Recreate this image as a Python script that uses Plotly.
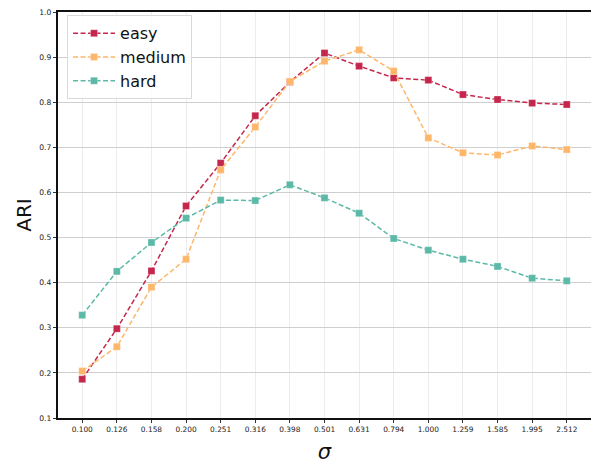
import plotly.graph_objects as go

sigma_labels = ["0.100", "0.126", "0.158", "0.200", "0.251", "0.316", "0.398", "0.501",
                "0.631", "0.794", "1.000", "1.259", "1.585", "1.995", "2.512"]
easy = [0.186, 0.298, 0.426, 0.570, 0.665, 0.770, 0.845, 0.909, 0.880, 0.854, 0.849, 0.817, 0.806, 0.798, 0.795]
medium = [0.204, 0.258, 0.390, 0.452, 0.650, 0.745, 0.846, 0.891, 0.916, 0.869, 0.721, 0.688, 0.683, 0.703, 0.695]
hard = [0.328, 0.425, 0.489, 0.543, 0.583, 0.582, 0.617, 0.588, 0.554, 0.498, 0.472, 0.452, 0.436, 0.410, 0.404]
y_ticks = [0.1, 0.2, 0.3, 0.4, 0.5, 0.6, 0.7, 0.8, 0.9, 1.0]

series = [("easy", easy, "#C4264C"), ("medium", medium, "#FDB76A"), ("hard", hard, "#5CB9A7")]
xpos = list(range(len(sigma_labels)))

fig = go.Figure()
for name, vals, col in series:
    fig.add_trace(go.Scatter(
        x=xpos, y=vals, name=name, mode="lines+markers",
        line=dict(color=col, width=1.5, dash="5px,2.5px"),
        marker=dict(symbol="square", size=7, color=col, line=dict(width=0.8, color="rgba(255,255,255,0.35)")),
    ))

fig.update_layout(
    width=591, height=464,
    margin=dict(l=58, r=0, t=12, b=46),
    paper_bgcolor="white", plot_bgcolor="white",
    font=dict(family="DejaVu Sans", color="#222"),
    showlegend=True,
    legend=dict(x=0.017, y=0.992, xanchor="left", yanchor="top",
                bgcolor="rgba(255,255,255,0.85)", bordercolor="#d9d9d9", borderwidth=1,
                font=dict(size=16, family="DejaVu Sans", color="#111"),
                itemwidth=42, tracegroupgap=0),
)
fig.update_xaxes(
    range=[-0.7, 14.7], tickmode="array", tickvals=xpos, ticktext=sigma_labels,
    tickfont=dict(size=7.4, family="DejaVu Sans", color="#222"),
    ticks="outside", ticklen=3.5, tickcolor="#333", tickwidth=1,
    showline=True, linecolor="#111", linewidth=1.5, mirror=True,
    showgrid=True, gridcolor="#ececec", gridwidth=1, zeroline=False,
    title=dict(text="<i>σ</i>", font=dict(size=21, family="DejaVu Sans", color="#111"), standoff=15),
)
fig.update_yaxes(
    range=[0.1, 1.0], tickmode="array", tickvals=y_ticks,
    ticktext=[f"{v:.1f}" for v in y_ticks],
    tickfont=dict(size=7.6, family="DejaVu Sans", color="#222"),
    ticks="outside", ticklen=3.5, tickcolor="#333", tickwidth=1,
    showline=True, linecolor="#111", linewidth=1.5,
    showgrid=True, gridcolor="#cfcfcf", gridwidth=1, zeroline=False,
    title=dict(text="ARI", font=dict(size=20, family="DejaVu Sans", color="#111"), standoff=2),
)

fig.write_html("out.html")
